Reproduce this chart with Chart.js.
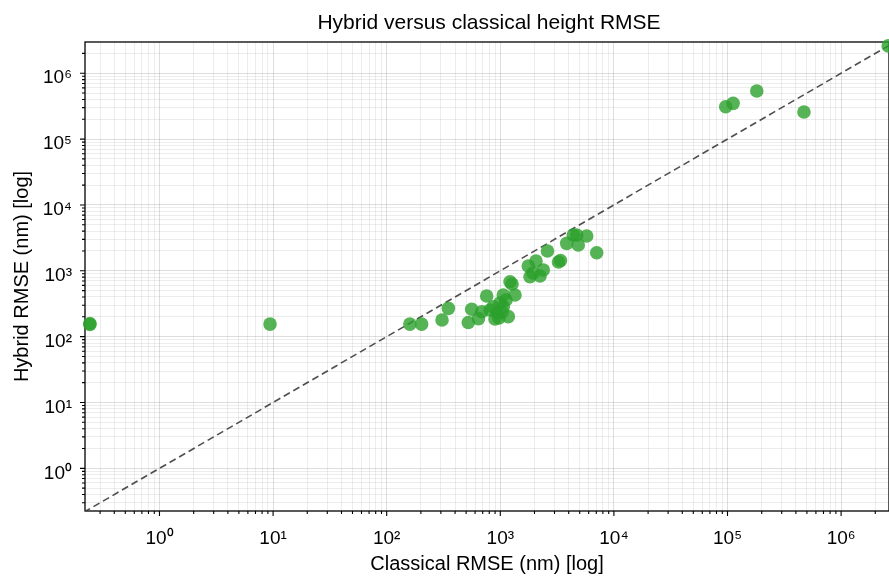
<!DOCTYPE html>
<html>
<head>
<meta charset="utf-8">
<title>Hybrid versus classical height RMSE</title>
<script src="https://cdn.jsdelivr.net/npm/chart.js@4.4.1/dist/chart.umd.min.js"></script>
<style>
  body { margin: 0; background: #fff; }
  canvas { display: block; }
</style>
</head>
<body>
<canvas id="chart" width="889" height="577"></canvas>
<script>
// values (nm)
const classicalRmse = [0.244, 0.244, 9.4, 160, 203, 307, 349, 523, 560, 643, 686, 759, 812, 868, 898, 936,
    994, 1063, 1063, 1122, 1176, 1217, 1268, 1347, 974, 1035, 1764, 1826, 2062, 1941, 2236, 2391, 2603,
    3253, 3388, 3842, 4391, 4704, 4859, 5762, 7056, 96400, 112000, 181000, 471000, 2600000]
const hybridRmse = [153, 158, 155, 155, 155, 179, 269, 164, 260, 188, 239, 414, 254, 285, 185, 228,
    324, 428, 285, 360, 201, 682, 629, 428, 192, 236, 1181, 812, 1406, 924, 832, 1027, 1994,
    1358, 1431, 2612, 3490, 3490, 2460, 3370, 1880, 310000, 349000, 537000, 258000, 2600000]
const identityLine = [0.1, 1e7]   // y = x reference
const xLimits = [0.221, 2.64e6]
const yLimits = [0.225, 2.98e6]

const supDigits = {'0':'⁰','1':'¹','2':'²','3':'³','4':'⁴','5':'⁵','6':'⁶','7':'⁷','8':'⁸','9':'⁹','-':'⁻'}

function isDecade(v){
    const e = Math.round(Math.log10(v))
    return Math.abs(v / Math.pow(10, e) - 1) < 1e-9
}
function decadeLabel(v){
    if (!isDecade(v)) return ''
    const e = String(Math.round(Math.log10(v)))
    return '10' + e.split('').map(c => supDigits[c]).join('')
}
// matplotlib style log ticks: 1..9 x 10^n
function logTicks(scale){
    const ticks = []
    const lo = Math.floor(Math.log10(scale.min)), hi = Math.ceil(Math.log10(scale.max))
    for (let e = lo; e <= hi; e++){
        for (let k = 1; k < 10; k++){
            const v = parseFloat((k * Math.pow(10, e)).toPrecision(6))
            if (v >= scale.min && v <= scale.max) ticks.push({value: v, major: k === 1})
        }
    }
    scale.ticks = ticks
}

const frame = {
    id: 'frame',
    afterLayout(chart){
        // the original axes run a bit past the right edge, so the title sits right of the canvas centre
        const tb = chart.titleBlock
        if (tb) { tb.left = 2 * 489 - tb.right; tb.width = tb.right - tb.left }
    },
    beforeDatasetsDraw(chart){
        const {ctx, chartArea: a} = chart
        ctx.save()
        ctx.strokeStyle = '#000'
        ctx.lineWidth = 1.1
        ctx.beginPath()
        // tick marks, outward
        chart.scales.x.ticks.forEach(t => {
            const px = chart.scales.x.getPixelForValue(t.value)
            ctx.moveTo(px, a.bottom)
            ctx.lineTo(px, a.bottom + (isDecade(t.value) ? 5 : 3))
        })
        chart.scales.y.ticks.forEach(t => {
            const py = chart.scales.y.getPixelForValue(t.value)
            ctx.moveTo(a.left, py)
            ctx.lineTo(a.left - (isDecade(t.value) ? 5 : 3), py)
        })
        ctx.stroke()
        ctx.lineWidth = 1.3
        ctx.strokeRect(a.left, a.top, a.right - a.left, a.bottom - a.top)
        ctx.restore()
    }
}

const gridColor = (c) => c.tick && isDecade(c.tick.value) ? 'rgba(0,0,0,0.13)' : 'rgba(0,0,0,0.07)'

Chart.defaults.font.family = "'Liberation Sans', Arial, sans-serif"
Chart.defaults.color = '#000'

new Chart(document.getElementById('chart'), {
    type: 'scatter',
    data: {
        datasets: [
            {
                label: 'runs',
                data: classicalRmse.map((x, i) => ({x: x, y: hybridRmse[i]})),
                backgroundColor: 'rgba(44,160,44,0.8)',
                borderWidth: 0,
                pointRadius: 6.8,
                pointHoverRadius: 6.8,
                clip: false,
                order: 1
            },
            {
                type: 'line',
                label: 'y = x',
                data: identityLine.map(v => ({x: v, y: v})),
                borderColor: 'rgba(60,60,60,0.9)',
                borderWidth: 1.6,
                borderDash: [7, 4],
                pointRadius: 0,
                order: 2
            }
        ]
    },
    options: {
        responsive: false,
        devicePixelRatio: 1,
        animation: false,
        events: [],
        layout: { padding: 0, autoPadding: false },
        plugins: {
            legend: { display: false },
            tooltip: { enabled: false },
            title: {
                display: true,
                text: 'Hybrid versus classical height RMSE',
                font: { size: 21, weight: 'normal' },
                color: '#000',
                padding: { top: 11.1, bottom: 5.7 }
            }
        },
        scales: {
            x: {
                type: 'logarithmic',
                min: xLimits[0],
                max: xLimits[1],
                afterBuildTicks: logTicks,
                afterFit(s){ s.height = 66; s.paddingLeft = 0; s.paddingRight = 0 },
                grid: { color: gridColor, lineWidth: 1, drawTicks: false },
                border: { display: false },
                ticks: {
                    callback: (v) => decadeLabel(v),
                    autoSkip: false, maxRotation: 0, minRotation: 0,
                    padding: 16,
                    font: { size: 19 }
                },
                title: {
                    display: true,
                    text: 'Classical RMSE (nm) [log]',
                    font: { size: 20 },
                    padding: { top: 0, bottom: 0.2 }
                }
            },
            y: {
                type: 'logarithmic',
                min: yLimits[0],
                max: yLimits[1],
                afterBuildTicks: logTicks,
                afterFit(s){ s.width = 85; s.paddingTop = 0; s.paddingBottom = 0 },
                grid: { color: gridColor, lineWidth: 1, drawTicks: false },
                border: { display: false },
                ticks: {
                    callback: (v) => decadeLabel(v),
                    autoSkip: false,
                    padding: 13,
                    labelOffset: 5,
                    font: { size: 19 }
                },
                title: {
                    display: true,
                    text: 'Hybrid RMSE (nm) [log]',
                    font: { size: 20 },
                    padding: { top: 10.5, bottom: 0 }
                }
            }
        }
    },
    plugins: [frame]
})
</script>
</body>
</html>
